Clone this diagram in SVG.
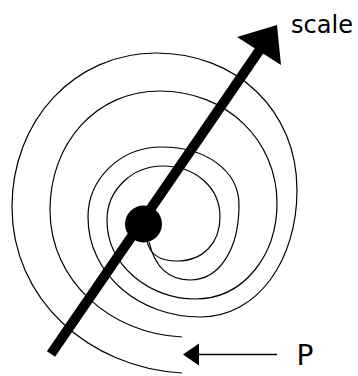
<svg xmlns="http://www.w3.org/2000/svg" width="358" height="376" viewBox="0 0 358 376">
<style>
.sp{fill:none;stroke:#000;stroke-width:1.2}
.lbl{font-family:"DejaVu Sans","Liberation Sans",sans-serif;fill:#000}
</style>
<rect width="358" height="376" fill="#fff"/>
<g id="connectors">
<path id="spiralA" class="sp" d="M147,241 C150,256 162,261 177,261 C203,261 220,243 220,217 C220,187 195,166 163,166 C132,166 107,190 107,220 C107,266 150,299 195,299 C244,299 277,255 277,203 C277,140 226,91 160,91 C96,91 50,143 50,210 C50,282 112,334 182,337"/>
<path id="spiralB" class="sp" d="M149,242 C155,268 170,280 190,280 C219,280 239,250 239,205 C239,170 205,147 162,147 C119,147 88,180 88,217 C88,275 140,317 200,317 C258,317 297,260 297,190 C297,110 236,53 156,53 C75,53 12,120 12,207 C12,300 90,368 182,373"/>
<line x1="51" y1="354" x2="261" y2="48" stroke="#000" stroke-width="10"/>
<polygon points="277,25 237,37 281,65" fill="#000"/>
<line x1="196" y1="354.5" x2="277" y2="354.5" stroke="#000" stroke-width="1.5"/>
<polygon points="183,354.5 199,343.5 199,365.5" fill="#000"/>
</g>
<g id="center"><circle cx="143.5" cy="224" r="18.5" fill="#000"/></g>
<g id="scale"><text class="lbl" x="291" y="32.7" font-size="25" textLength="62" lengthAdjust="spacingAndGlyphs">scale</text></g>
<g id="P"><text class="lbl" x="296.5" y="365" font-size="28">P</text></g>
</svg>
